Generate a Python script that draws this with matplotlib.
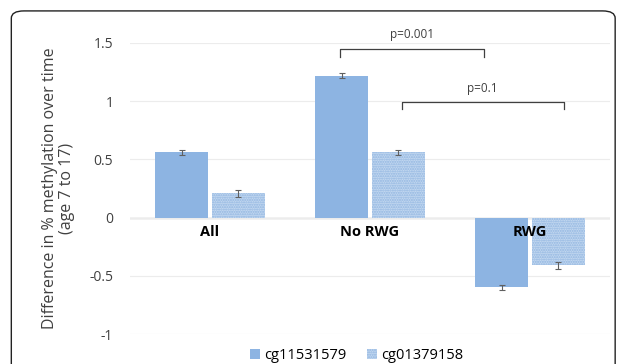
import numpy as np
import matplotlib.pyplot as plt
from matplotlib.patches import FancyBboxPatch

plt.rcParams['font.family'] = ['Open Sans', 'DejaVu Sans']

groups = ['All', 'No RWG', 'RWG']
cg115 = [0.56, 1.22, -0.60]
cg013 = [0.21, 0.56, -0.41]
err115 = [0.025, 0.02, 0.02]
err013 = [0.03, 0.025, 0.03]

blue = '#8db4e2'
fig = plt.figure(figsize=(6.29, 3.64), dpi=100)
ax = fig.add_axes([0.2067, 0.0824, 0.763, 0.7995])

x = np.arange(len(groups))
w = 0.335
b1 = ax.bar(x - w / 2 - 0.01, cg115, w, color=blue, label='cg11531579', zorder=2)
b2 = ax.bar(x + w / 2 + 0.01, cg013, w, facecolor='#c3d8f0', edgecolor='#8fb4e0',
            hatch='.......', linewidth=0, label='cg01379158', zorder=2)
ax.errorbar(x - w / 2 - 0.01, cg115, yerr=err115, fmt='none', ecolor='#606060',
            elinewidth=0.8, capsize=2.5, capthick=0.8, zorder=3)
ax.errorbar(x + w / 2 + 0.01, cg013, yerr=err013, fmt='none', ecolor='#606060',
            elinewidth=0.8, capsize=2.5, capthick=0.8, zorder=3)

ax.set_xlim(-0.5, 2.5)
ax.set_ylim(-1, 1.5)
ax.set_yticks([-1, -0.5, 0, 0.5, 1, 1.5])
ax.set_yticklabels(['-1', '-0.5', '0', '0.5', '1', '1.5'])
ax.set_xticks([])
ax.tick_params(axis='y', length=0, pad=12, labelsize=10, labelcolor='#404040')
ax.grid(axis='y', color='#ececec', linewidth=0.8, zorder=0)
ax.axhline(0, color='#bfbfbf', linewidth=1, zorder=1)
for s in ax.spines.values():
    s.set_visible(False)

for xi, g in zip(x, groups):
    ax.text(xi, -0.06, g, ha='center', va='top', fontsize=10.5, fontweight='bold')

ax.set_ylabel('Difference in % methylation over time\n(age 7 to 17)', fontsize=11.5,
              color='#404040', labelpad=10, linespacing=1.1)

# significance brackets
def bracket(x0, x1, y, h, txt, ty):
    ax.plot([x0, x0, x1, x1], [y - h, y, y, y - h], color='#404040', linewidth=0.9,
            clip_on=False)
    ax.text((x0 + x1) / 2, ty, txt, ha='center', va='center', fontsize=8.5,
            color='#404040')

bracket(0.81, 1.71, 1.45, 0.07, 'p=0.001', 1.57)
bracket(1.20, 2.21, 0.99, 0.06, 'p=0.1', 1.11)

fig.legend(handles=[b1, b2], loc='center', bbox_to_anchor=(0.567, 0.022), ncol=2,
           frameon=False, fontsize=10.5, handlelength=0.7, handleheight=0.7,
           handletextpad=0.3, columnspacing=1.4)

border = FancyBboxPatch((0.018, -0.2), 0.96, 1.17, boxstyle='round,pad=0,rounding_size=0.02',
                        transform=fig.transFigure, fill=False, edgecolor='#222222',
                        linewidth=1)
fig.patches.append(border)

fig.savefig('out.png', dpi=100)
